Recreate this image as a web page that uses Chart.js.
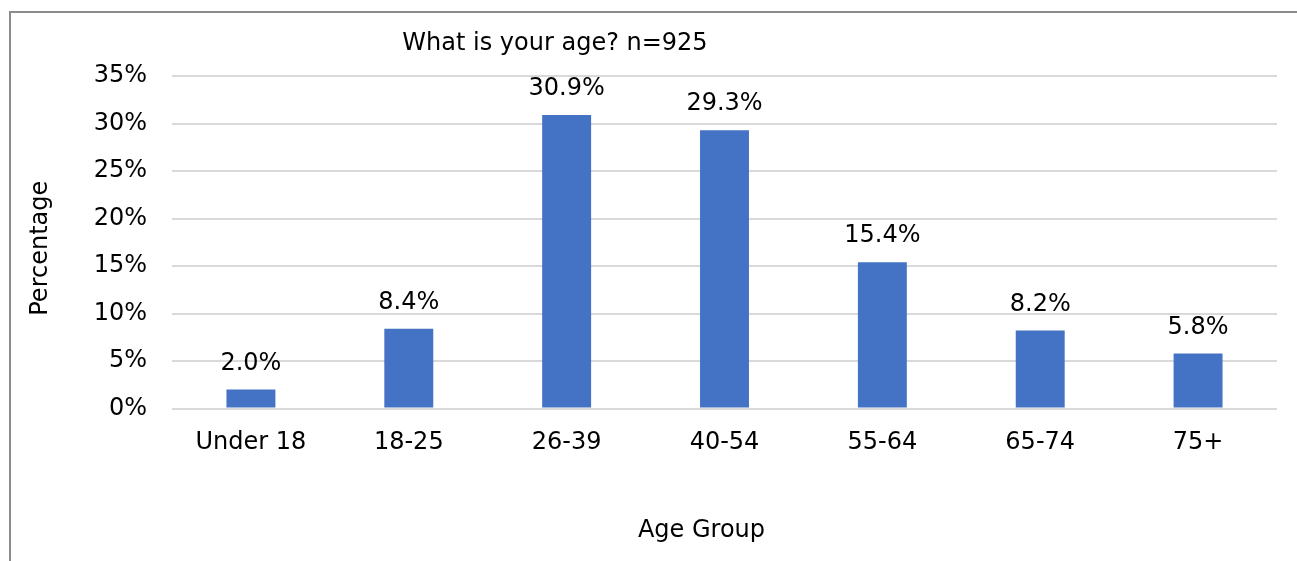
<!DOCTYPE html>
<html>
<head>
<meta charset="utf-8">
<script src="https://cdn.jsdelivr.net/npm/chart.js@4/dist/chart.umd.min.js"></script>
<style>
  html, body { margin: 0; padding: 0; background: #fff; overflow: hidden; }
  #wrap { position: relative; width: 1297px; height: 561px; }
  #frame { position: absolute; left: 9px; top: 11px; width: 1400px; height: 700px; border: 2px solid #8c8c8c; box-sizing: border-box; pointer-events: none; }
  canvas { position: absolute; left: 0; top: 0; }
</style>
</head>
<body>
<div id="wrap">
  <canvas id="c" width="1297" height="561"></canvas>
  <div id="frame"></div>
</div>
<script>
const categories = ["Under 18", "18-25", "26-39", "40-54", "55-64", "65-74", "75+"];
const percentages = [2.0, 8.4, 30.9, 29.3, 15.4, 8.2, 5.8];
const yTicks = [0, 5, 10, 15, 20, 25, 30, 35];
const chartTitle = "What is your age? n=925";
const xTitle = "Age Group";
const yTitle = "Percentage";

const FONT = "'DejaVu Sans', sans-serif";
const FS = 24;

const labelsPlugin = {
  id: 'barLabels',
  afterDatasetsDraw(chart) {
    const ctx = chart.ctx;
    const meta = chart.getDatasetMeta(0);
    ctx.save();
    ctx.font = FS + "px " + FONT;
    ctx.fillStyle = "#000";
    ctx.textAlign = "center";
    ctx.textBaseline = "middle";
    meta.data.forEach((bar, i) => {
      ctx.fillText(percentages[i].toFixed(1) + "%", bar.x, bar.y - 26);
    });
    ctx.restore();
  }
};

const textPlugin = {
  id: 'texts',
  afterDraw(chart) {
    const ctx = chart.ctx;
    const a = chart.chartArea;
    ctx.save();
    ctx.font = FS + "px " + FONT;
    ctx.fillStyle = "#000";
    ctx.textAlign = "center";
    ctx.textBaseline = "middle";
    ctx.fillText(chartTitle, a.left + 383, a.top - 32);
    ctx.fillText(xTitle, (a.left + a.right) / 2 - 23, a.bottom + 122);
    ctx.translate(41, (a.top + a.bottom) / 2 + 6);
    ctx.rotate(-Math.PI / 2);
    ctx.fillText(yTitle, 0, 0);
    ctx.restore();
  }
};

new Chart(document.getElementById('c'), {
  type: 'bar',
  data: {
    labels: categories,
    datasets: [{
      data: percentages,
      backgroundColor: '#4472C4',
      borderWidth: 0,
      barPercentage: 0.31,
      categoryPercentage: 1.0
    }]
  },
  options: {
    responsive: false,
    animation: false,
    devicePixelRatio: 1,
    layout: { padding: { left: 0, right: 20, top: 76, bottom: 0 } },
    plugins: { legend: { display: false }, title: { display: false }, tooltip: { enabled: false } },
    scales: {
      x: {
        grid: { display: false, drawTicks: false },
        border: { display: false },
        ticks: { color: '#000', font: { family: FONT, size: FS }, padding: 20, maxRotation: 0 },
        afterFit(scale) { scale.height = 152.5; }
      },
      y: {
        min: 0,
        max: 35,
        afterBuildTicks(scale) { scale.ticks = yTicks.map(v => ({ value: v })); },
        grid: { color: '#d9d9d9', lineWidth: 2, drawTicks: false },
        border: { display: false },
        ticks: {
          color: '#000',
          font: { family: FONT, size: FS },
          padding: 25,
          callback: v => v + '%'
        },
        afterFit(scale) { scale.width = 172; }
      }
    }
  },
  plugins: [labelsPlugin, textPlugin]
});
</script>
</body>
</html>
